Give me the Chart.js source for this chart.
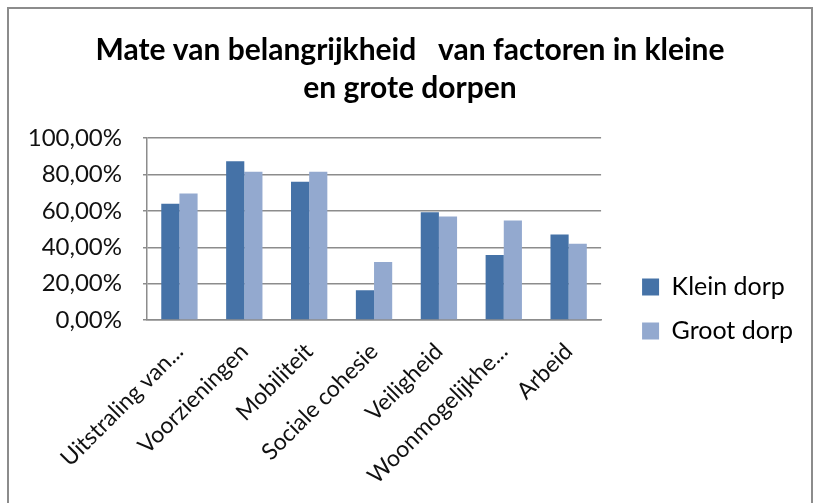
<!DOCTYPE html>
<html lang="nl">
<head>
  <meta charset="UTF-8" />
  <title>Mate van belangrijkheid</title>
  <script src="https://cdn.jsdelivr.net/npm/chart.js"></script>
  <style>
    body {
      margin: 0;
      background: #fff;
    }
    .frame {
      position: absolute;
      left: 7px;
      top: 7px;
      width: 802px;
      height: 500px;
      border: 2px solid #8c8c8c;
      background: white;
    }
  </style>
</head>
<body>
  <div class="frame">
    <canvas id="chart" width="802" height="494"></canvas>
  </div>

  <script>
    const categories = ['Uitstraling van...', 'Voorzieningen', 'Mobiliteit', 'Sociale cohesie', 'Veiligheid', 'Woonmogelijkhe...', 'Arbeid'];
    const kleinDorp = [0.64, 0.873, 0.761, 0.164, 0.593, 0.357, 0.47];
    const grootDorp = [0.696, 0.816, 0.816, 0.319, 0.569, 0.547, 0.42];

    const fontFamily = 'Lato, "Open Sans", sans-serif';

    new Chart(document.getElementById('chart'), {
      type: 'bar',
      data: {
        labels: categories,
        datasets: [
          { label: 'Klein dorp', data: kleinDorp, backgroundColor: '#4572a7' },
          { label: 'Groot dorp', data: grootDorp, backgroundColor: '#93a9cf' }
        ]
      },
      options: {
        responsive: false,
        animation: false,
        datasets: {
          bar: { barPercentage: 1, categoryPercentage: 0.56 }
        },
        layout: { padding: { left: 8, right: 8, top: 0, bottom: 0 } },
        plugins: {
          title: {
            display: true,
            text: ['Mate van belangrijkheid   van factoren in kleine', 'en grote dorpen'],
            color: '#000',
            font: { family: fontFamily, size: 30, weight: 'bold', lineHeight: 1.27 },
            padding: { top: 22, bottom: 31 }
          },
          legend: {
            position: 'right',
            maxWidth: 200,
            // empty legend title only pushes the items down
            title: { display: true, text: '', font: { size: 12 }, padding: { top: 91.6, bottom: 0 } },
            labels: {
              color: '#000',
              boxWidth: 17,
              boxHeight: 17,
              padding: 19,
              font: { family: fontFamily, size: 25 }
            }
          },
          tooltip: { enabled: false }
        },
        scales: {
          y: {
            min: 0,
            max: 1,
            afterFit: s => { s.width = 130; },
            ticks: {
              stepSize: 0.2,
              color: '#111',
              font: { family: fontFamily, size: 24 },
              padding: 21,
              callback: v => (v * 100).toFixed(2).replace('.', ',') + '%'
            },
            grid: { color: '#8c8c8c', lineWidth: 1.5, tickLength: 4 },
            border: { color: '#8c8c8c', width: 1.5 }
          },
          // empty spacer between plot and legend
          gap: {
            type: 'linear',
            position: 'right',
            afterFit: s => { s.width = 22; },
            ticks: { display: false },
            grid: { display: false },
            border: { display: false }
          },
          x: {
            afterFit: s => { s.height = 183; },
            ticks: {
              color: '#111',
              font: { family: fontFamily, size: 23 },
              maxRotation: 45,
              minRotation: 45,
              autoSkip: false,
              padding: 10
            },
            grid: { display: false },
            border: { color: '#8c8c8c', width: 1.5 }
          }
        }
      }
    });
  </script>
</body>
</html>
